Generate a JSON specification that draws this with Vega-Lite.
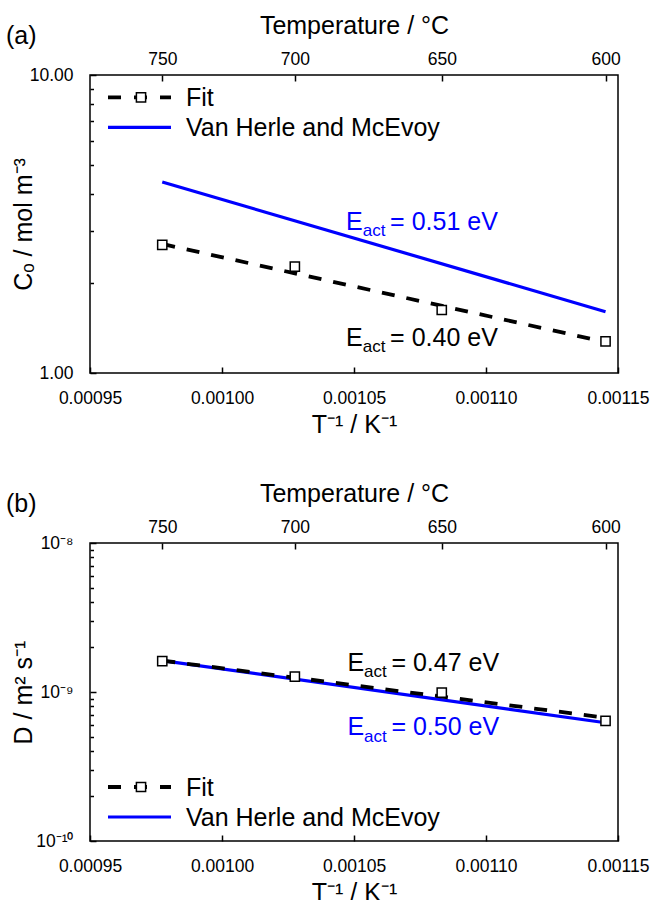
{
  "$schema": "https://vega.github.io/schema/vega-lite/v6.json",
  "padding": {"left": 5, "top": 12, "right": 0, "bottom": 0},
  "datasets": {
    "a_fit": [
      {"T_C": 750, "invT": 0.00097737, "C": 2.71},
      {"T_C": 600, "invT": 0.00114528, "C": 1.27}
    ],
    "a_vh": [
      {"T_C": 750, "invT": 0.00097737, "C": 4.375},
      {"T_C": 600, "invT": 0.00114528, "C": 1.606}
    ],
    "a_pts": [
      {"T_C": 750, "invT": 0.00097737, "C": 2.689},
      {"T_C": 700, "invT": 0.00102759, "C": 2.274},
      {"T_C": 650, "invT": 0.00108324, "C": 1.627},
      {"T_C": 600, "invT": 0.00114528, "C": 1.277}
    ],
    "b_fit": [
      {"T_C": 750, "invT": 0.00097737, "D": 1.625e-9},
      {"T_C": 600, "invT": 0.00114528, "D": 0.672e-9}
    ],
    "b_vh": [
      {"T_C": 750, "invT": 0.00097737, "D": 1.625e-9},
      {"T_C": 600, "invT": 0.00114528, "D": 0.622e-9}
    ],
    "b_pts": [
      {"T_C": 750, "invT": 0.00097737, "D": 1.614e-9},
      {"T_C": 700, "invT": 0.00102759, "D": 1.267e-9},
      {"T_C": 650, "invT": 0.00108324, "D": 0.989e-9},
      {"T_C": 600, "invT": 0.00114528, "D": 0.639e-9}
    ],
    "one": [{}]
  },
  "config": {
    "font": "Liberation Sans",
    "view": {"stroke": "black", "strokeWidth": 1.5},
    "axis": {
      "labelFont": "Liberation Sans", "labelFontSize": 17.5, "labelColor": "black",
      "titleFont": "Liberation Sans", "titleFontSize": 25, "titleFontWeight": "normal", "titleColor": "black",
      "tickColor": "black", "tickWidth": 1.5, "domain": false, "grid": false, "labelFlush": false
    },
    "title": {"font": "Liberation Sans", "fontSize": 25, "fontWeight": "normal", "color": "black", "anchor": "start", "frame": "bounds"},
    "text": {"font": "Liberation Sans"}
  },
  "spacing": 41,
  "vconcat": [
    {
      "title": {"text": "(a)", "dy": 40, "dx": -5},
      "width": 528,
      "height": 298,
      "resolve": {"axis": {"x": "independent", "y": "independent"}},
      "layer": [
        {
          "data": {"name": "a_vh"},
          "mark": {"type": "line", "color": "#0000ff", "strokeWidth": 3.2},
          "encoding": {
            "x": {"field": "invT", "type": "quantitative",
              "scale": {"domain": [0.00095, 0.00115], "nice": false, "zero": false},
              "axis": {"orient": "top", "values": [0.00097737, 0.00102759, 0.00108324, 0.00114528],
                "labelExpr": "format(1/datum.value - 273.15, '.0f')",
                "title": "Temperature / °C", "tickSize": -6, "labelPadding": 13, "titlePadding": 12}},
            "y": {"field": "C", "type": "quantitative",
              "scale": {"type": "log", "domain": [1, 10], "nice": false},
              "axis": {"orient": "left", "values": [2, 3, 4, 5, 6, 7, 8, 9], "labels": false, "title": null, "tickSize": -3.5}}
          }
        },
        {
          "data": {"name": "a_fit"},
          "mark": {"type": "line", "color": "black", "strokeWidth": 3.8, "strokeDash": [13, 12]},
          "encoding": {
            "x": {"field": "invT", "type": "quantitative",
              "axis": {"orient": "bottom", "values": [0.00095, 0.001, 0.00105, 0.0011, 0.00115], "format": ".5f",
                "title": "T⁻¹ / K⁻¹", "tickSize": -6, "labelPadding": 22, "titlePadding": 6}},
            "y": {"field": "C", "type": "quantitative",
              "axis": {"orient": "left", "values": [1, 10], "format": ".2f", "title": "Cₒ / mol m⁻³",
                "tickSize": -6, "labelPadding": 23, "minExtent": 50, "maxExtent": 50, "titlePadding": 4}}
          }
        },
        {
          "data": {"name": "a_pts"},
          "mark": {"type": "point", "shape": "square", "filled": true, "fill": "white", "stroke": "black", "strokeWidth": 1.5, "size": 85, "opacity": 1},
          "encoding": {
            "x": {"field": "invT", "type": "quantitative", "axis": null},
            "y": {"field": "C", "type": "quantitative", "axis": null}
          }
        },
        {
          "data": {"name": "one"},
          "mark": {"type": "text", "align": "left", "baseline": "alphabetic", "fontSize": 25, "color": "#0000ff"},
          "encoding": {"x": {"datum": 0.001047, "axis": null}, "y": {"datum": 3.02, "axis": null}, "text": {"value": "E"}}
        },
        {
          "data": {"name": "one"},
          "mark": {"type": "text", "align": "left", "baseline": "alphabetic", "fontSize": 17, "color": "#0000ff", "dx": 16.7, "dy": 6.3},
          "encoding": {"x": {"datum": 0.001047, "axis": null}, "y": {"datum": 3.02, "axis": null}, "text": {"value": "act"}}
        },
        {
          "data": {"name": "one"},
          "mark": {"type": "text", "align": "left", "baseline": "alphabetic", "fontSize": 25, "color": "#0000ff", "dx": 44},
          "encoding": {"x": {"datum": 0.001047, "axis": null}, "y": {"datum": 3.02, "axis": null}, "text": {"value": "= 0.51 eV"}}
        },
        {
          "data": {"name": "one"},
          "mark": {"type": "text", "align": "left", "baseline": "alphabetic", "fontSize": 25, "color": "black"},
          "encoding": {"x": {"datum": 0.001047, "axis": null}, "y": {"datum": 1.235, "axis": null}, "text": {"value": "E"}}
        },
        {
          "data": {"name": "one"},
          "mark": {"type": "text", "align": "left", "baseline": "alphabetic", "fontSize": 17, "color": "black", "dx": 16.7, "dy": 6.3},
          "encoding": {"x": {"datum": 0.001047, "axis": null}, "y": {"datum": 1.235, "axis": null}, "text": {"value": "act"}}
        },
        {
          "data": {"name": "one"},
          "mark": {"type": "text", "align": "left", "baseline": "alphabetic", "fontSize": 25, "color": "black", "dx": 44},
          "encoding": {"x": {"datum": 0.001047, "axis": null}, "y": {"datum": 1.235, "axis": null}, "text": {"value": "= 0.40 eV"}}
        },
        {
          "data": {"name": "one"},
          "mark": {"type": "rule", "color": "black", "strokeWidth": 3.8, "strokeDash": [13, 13]},
          "encoding": {"x": {"datum": 0.00095682, "axis": null}, "x2": {"datum": 0.00098068}, "y": {"datum": 8.414, "axis": null}}
        },
        {
          "data": {"name": "one"},
          "mark": {"type": "point", "shape": "square", "filled": true, "fill": "white", "stroke": "black", "strokeWidth": 1.5, "size": 85, "opacity": 1},
          "encoding": {"x": {"datum": 0.00096932, "axis": null}, "y": {"datum": 8.414, "axis": null}}
        },
        {
          "data": {"name": "one"},
          "mark": {"type": "rule", "color": "#0000ff", "strokeWidth": 3.2},
          "encoding": {"x": {"datum": 0.00095682, "axis": null}, "x2": {"datum": 0.00098068}, "y": {"datum": 6.675, "axis": null}}
        },
        {
          "data": {"name": "one"},
          "mark": {"type": "text", "align": "left", "baseline": "alphabetic", "fontSize": 25, "color": "black"},
          "encoding": {"x": {"datum": 0.00098636, "axis": null}, "y": {"datum": 7.87, "axis": null}, "text": {"value": "Fit"}}
        },
        {
          "data": {"name": "one"},
          "mark": {"type": "text", "align": "left", "baseline": "alphabetic", "fontSize": 25, "color": "black"},
          "encoding": {"x": {"datum": 0.00098636, "axis": null}, "y": {"datum": 6.23, "axis": null}, "text": {"value": "Van Herle and McEvoy"}}
        }
      ]
    },
    {
      "title": {"text": "(b)", "dy": 40, "dx": -5},
      "width": 528,
      "height": 298,
      "resolve": {"axis": {"x": "independent", "y": "independent"}},
      "layer": [
        {
          "data": {"name": "b_vh"},
          "mark": {"type": "line", "color": "#0000ff", "strokeWidth": 3.2},
          "encoding": {
            "x": {"field": "invT", "type": "quantitative",
              "scale": {"domain": [0.00095, 0.00115], "nice": false, "zero": false},
              "axis": {"orient": "top", "values": [0.00097737, 0.00102759, 0.00108324, 0.00114528],
                "labelExpr": "format(1/datum.value - 273.15, '.0f')",
                "title": "Temperature / °C", "tickSize": -6, "labelPadding": 13, "titlePadding": 12}},
            "y": {"field": "D", "type": "quantitative",
              "scale": {"type": "log", "domain": [1e-10, 1e-8], "nice": false},
              "axis": {"orient": "left", "values": [2e-10, 3e-10, 4e-10, 5e-10, 6e-10, 7e-10, 8e-10, 9e-10, 2e-9, 3e-9, 4e-9, 5e-9, 6e-9, 7e-9, 8e-9, 9e-9], "labels": false, "title": null, "tickSize": -3.5}}
          }
        },
        {
          "data": {"name": "b_fit"},
          "mark": {"type": "line", "color": "black", "strokeWidth": 3.8, "strokeDash": [13, 12]},
          "encoding": {
            "x": {"field": "invT", "type": "quantitative",
              "axis": {"orient": "bottom", "values": [0.00095, 0.001, 0.00105, 0.0011, 0.00115], "format": ".5f",
                "title": "T⁻¹ / K⁻¹", "tickSize": -6, "labelPadding": 22, "titlePadding": 6}},
            "y": {"field": "D", "type": "quantitative",
              "axis": {"orient": "left", "values": [1e-10, 1e-9, 1e-8],
                "labelExpr": "'10' + (datum.value < 5e-10 ? '⁻¹⁰' : (datum.value < 5e-9 ? '⁻⁹' : '⁻⁸'))",
                "title": "D / m² s⁻¹",
                "tickSize": -6, "labelPadding": 23, "minExtent": 50, "maxExtent": 50, "titlePadding": 4}}
          }
        },
        {
          "data": {"name": "b_pts"},
          "mark": {"type": "point", "shape": "square", "filled": true, "fill": "white", "stroke": "black", "strokeWidth": 1.5, "size": 85, "opacity": 1},
          "encoding": {
            "x": {"field": "invT", "type": "quantitative", "axis": null},
            "y": {"field": "D", "type": "quantitative", "axis": null}
          }
        },
        {
          "data": {"name": "one"},
          "mark": {"type": "text", "align": "left", "baseline": "alphabetic", "fontSize": 25, "color": "black"},
          "encoding": {"x": {"datum": 0.0010475, "axis": null}, "y": {"datum": 1.383e-9, "axis": null}, "text": {"value": "E"}}
        },
        {
          "data": {"name": "one"},
          "mark": {"type": "text", "align": "left", "baseline": "alphabetic", "fontSize": 17, "color": "black", "dx": 16.7, "dy": 6.3},
          "encoding": {"x": {"datum": 0.0010475, "axis": null}, "y": {"datum": 1.383e-9, "axis": null}, "text": {"value": "act"}}
        },
        {
          "data": {"name": "one"},
          "mark": {"type": "text", "align": "left", "baseline": "alphabetic", "fontSize": 25, "color": "black", "dx": 44},
          "encoding": {"x": {"datum": 0.0010475, "axis": null}, "y": {"datum": 1.383e-9, "axis": null}, "text": {"value": "= 0.47 eV"}}
        },
        {
          "data": {"name": "one"},
          "mark": {"type": "text", "align": "left", "baseline": "alphabetic", "fontSize": 25, "color": "#0000ff"},
          "encoding": {"x": {"datum": 0.0010475, "axis": null}, "y": {"datum": 5.12e-10, "axis": null}, "text": {"value": "E"}}
        },
        {
          "data": {"name": "one"},
          "mark": {"type": "text", "align": "left", "baseline": "alphabetic", "fontSize": 17, "color": "#0000ff", "dx": 16.7, "dy": 6.3},
          "encoding": {"x": {"datum": 0.0010475, "axis": null}, "y": {"datum": 5.12e-10, "axis": null}, "text": {"value": "act"}}
        },
        {
          "data": {"name": "one"},
          "mark": {"type": "text", "align": "left", "baseline": "alphabetic", "fontSize": 25, "color": "#0000ff", "dx": 44},
          "encoding": {"x": {"datum": 0.0010475, "axis": null}, "y": {"datum": 5.12e-10, "axis": null}, "text": {"value": "= 0.50 eV"}}
        },
        {
          "data": {"name": "one"},
          "mark": {"type": "rule", "color": "black", "strokeWidth": 3.8, "strokeDash": [13, 13]},
          "encoding": {"x": {"datum": 0.00095682, "axis": null}, "x2": {"datum": 0.00098068}, "y": {"datum": 2.304e-10, "axis": null}}
        },
        {
          "data": {"name": "one"},
          "mark": {"type": "point", "shape": "square", "filled": true, "fill": "white", "stroke": "black", "strokeWidth": 1.5, "size": 85, "opacity": 1},
          "encoding": {"x": {"datum": 0.00096932, "axis": null}, "y": {"datum": 2.304e-10, "axis": null}}
        },
        {
          "data": {"name": "one"},
          "mark": {"type": "rule", "color": "#0000ff", "strokeWidth": 3.2},
          "encoding": {"x": {"datum": 0.00095682, "axis": null}, "x2": {"datum": 0.00098068}, "y": {"datum": 1.449e-10, "axis": null}}
        },
        {
          "data": {"name": "one"},
          "mark": {"type": "text", "align": "left", "baseline": "alphabetic", "fontSize": 25, "color": "black"},
          "encoding": {"x": {"datum": 0.00098636, "axis": null}, "y": {"datum": 2.004e-10, "axis": null}, "text": {"value": "Fit"}}
        },
        {
          "data": {"name": "one"},
          "mark": {"type": "text", "align": "left", "baseline": "alphabetic", "fontSize": 25, "color": "black"},
          "encoding": {"x": {"datum": 0.00098636, "axis": null}, "y": {"datum": 1.261e-10, "axis": null}, "text": {"value": "Van Herle and McEvoy"}}
        }
      ]
    }
  ]
}
